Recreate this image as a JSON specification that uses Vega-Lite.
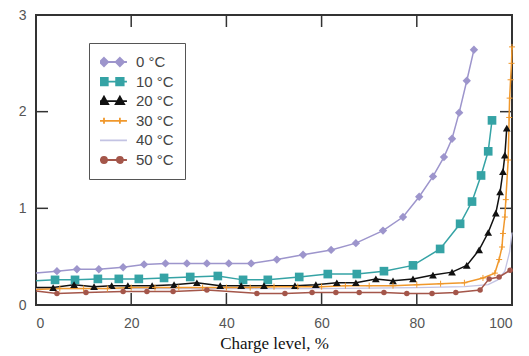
{
  "$schema": "https://vega.github.io/schema/vega-lite/v6.json",
  "width": 476,
  "height": 290,
  "autosize": "none",
  "padding": {"left": 36, "top": 15, "right": 17, "bottom": 51},
  "background": "white",
  "config": {
    "view": {"stroke": "#333", "strokeWidth": 2},
    "axis": {
      "grid": false,
      "domain": false,
      "ticks": false,
      "labelFont": "Liberation Sans",
      "labelFontSize": 14,
      "labelColor": "#555"
    }
  },
  "datasets": {
    "xticks": [{"v": 20}, {"v": 40}, {"v": 60}, {"v": 80}],
    "yticks": [{"v": 1}, {"v": 2}],
    "curves": [
      {"t": "0 °C", "x": 0, "y": 0.33}, {"t": "0 °C", "x": 4.4, "y": 0.35}, {"t": "0 °C", "x": 8.6, "y": 0.37},
      {"t": "0 °C", "x": 13.2, "y": 0.37}, {"t": "0 °C", "x": 18.3, "y": 0.39}, {"t": "0 °C", "x": 22.7, "y": 0.42},
      {"t": "0 °C", "x": 27.2, "y": 0.43}, {"t": "0 °C", "x": 31.7, "y": 0.43}, {"t": "0 °C", "x": 35.9, "y": 0.43},
      {"t": "0 °C", "x": 40.5, "y": 0.43}, {"t": "0 °C", "x": 45.2, "y": 0.43}, {"t": "0 °C", "x": 50.6, "y": 0.47},
      {"t": "0 °C", "x": 56.1, "y": 0.52}, {"t": "0 °C", "x": 62.0, "y": 0.57}, {"t": "0 °C", "x": 67.2, "y": 0.64},
      {"t": "0 °C", "x": 72.9, "y": 0.77}, {"t": "0 °C", "x": 77.1, "y": 0.91}, {"t": "0 °C", "x": 80.5, "y": 1.12},
      {"t": "0 °C", "x": 83.4, "y": 1.33}, {"t": "0 °C", "x": 85.7, "y": 1.53}, {"t": "0 °C", "x": 87.4, "y": 1.72},
      {"t": "0 °C", "x": 88.9, "y": 1.99}, {"t": "0 °C", "x": 90.5, "y": 2.32}, {"t": "0 °C", "x": 92.0, "y": 2.64},

      {"t": "10 °C", "x": 0, "y": 0.25}, {"t": "10 °C", "x": 4.0, "y": 0.26}, {"t": "10 °C", "x": 8.2, "y": 0.26},
      {"t": "10 °C", "x": 13.0, "y": 0.27}, {"t": "10 °C", "x": 17.4, "y": 0.27}, {"t": "10 °C", "x": 21.6, "y": 0.27},
      {"t": "10 °C", "x": 26.9, "y": 0.28}, {"t": "10 °C", "x": 32.4, "y": 0.29}, {"t": "10 °C", "x": 38.2, "y": 0.30},
      {"t": "10 °C", "x": 43.5, "y": 0.26}, {"t": "10 °C", "x": 48.7, "y": 0.26}, {"t": "10 °C", "x": 55.3, "y": 0.29},
      {"t": "10 °C", "x": 61.3, "y": 0.32}, {"t": "10 °C", "x": 67.4, "y": 0.32}, {"t": "10 °C", "x": 73.1, "y": 0.35},
      {"t": "10 °C", "x": 79.2, "y": 0.41}, {"t": "10 °C", "x": 84.9, "y": 0.58}, {"t": "10 °C", "x": 89.1, "y": 0.84},
      {"t": "10 °C", "x": 91.6, "y": 1.07}, {"t": "10 °C", "x": 93.5, "y": 1.34}, {"t": "10 °C", "x": 95.0, "y": 1.59},
      {"t": "10 °C", "x": 95.8, "y": 1.91},

      {"t": "20 °C", "x": 0, "y": 0.18}, {"t": "20 °C", "x": 3.6, "y": 0.18}, {"t": "20 °C", "x": 8.0, "y": 0.21},
      {"t": "20 °C", "x": 12.2, "y": 0.19}, {"t": "20 °C", "x": 15.9, "y": 0.20}, {"t": "20 °C", "x": 19.3, "y": 0.20},
      {"t": "20 °C", "x": 24.4, "y": 0.20}, {"t": "20 °C", "x": 29.0, "y": 0.21}, {"t": "20 °C", "x": 33.8, "y": 0.23},
      {"t": "20 °C", "x": 38.7, "y": 0.20}, {"t": "20 °C", "x": 43.1, "y": 0.20}, {"t": "20 °C", "x": 47.9, "y": 0.20},
      {"t": "20 °C", "x": 54.4, "y": 0.20}, {"t": "20 °C", "x": 58.8, "y": 0.21}, {"t": "20 °C", "x": 63.2, "y": 0.23},
      {"t": "20 °C", "x": 67.2, "y": 0.23}, {"t": "20 °C", "x": 71.4, "y": 0.27}, {"t": "20 °C", "x": 75.0, "y": 0.25},
      {"t": "20 °C", "x": 79.2, "y": 0.27}, {"t": "20 °C", "x": 83.4, "y": 0.31}, {"t": "20 °C", "x": 87.4, "y": 0.34},
      {"t": "20 °C", "x": 90.5, "y": 0.41}, {"t": "20 °C", "x": 93.1, "y": 0.57}, {"t": "20 °C", "x": 95.0, "y": 0.75},
      {"t": "20 °C", "x": 96.6, "y": 0.95}, {"t": "20 °C", "x": 97.5, "y": 1.17}, {"t": "20 °C", "x": 98.1, "y": 1.38},
      {"t": "20 °C", "x": 98.5, "y": 1.55}, {"t": "20 °C", "x": 98.9, "y": 1.83},

      {"t": "30 °C", "x": 0, "y": 0.16}, {"t": "30 °C", "x": 5, "y": 0.17}, {"t": "30 °C", "x": 10, "y": 0.17},
      {"t": "30 °C", "x": 15, "y": 0.17}, {"t": "30 °C", "x": 20, "y": 0.18}, {"t": "30 °C", "x": 25, "y": 0.18},
      {"t": "30 °C", "x": 30, "y": 0.18}, {"t": "30 °C", "x": 35, "y": 0.18}, {"t": "30 °C", "x": 40, "y": 0.18},
      {"t": "30 °C", "x": 45, "y": 0.18}, {"t": "30 °C", "x": 50, "y": 0.19}, {"t": "30 °C", "x": 55, "y": 0.19},
      {"t": "30 °C", "x": 60, "y": 0.19}, {"t": "30 °C", "x": 65, "y": 0.20}, {"t": "30 °C", "x": 70, "y": 0.20},
      {"t": "30 °C", "x": 75, "y": 0.20}, {"t": "30 °C", "x": 80, "y": 0.21}, {"t": "30 °C", "x": 85, "y": 0.22},
      {"t": "30 °C", "x": 90, "y": 0.23}, {"t": "30 °C", "x": 93.9, "y": 0.28}, {"t": "30 °C", "x": 96.4, "y": 0.33},
      {"t": "30 °C", "x": 97.3, "y": 0.47}, {"t": "30 °C", "x": 97.9, "y": 0.60}, {"t": "30 °C", "x": 98.1, "y": 0.74},
      {"t": "30 °C", "x": 98.5, "y": 0.91}, {"t": "30 °C", "x": 98.7, "y": 1.09}, {"t": "30 °C", "x": 99.2, "y": 1.50},
      {"t": "30 °C", "x": 99.4, "y": 1.94}, {"t": "30 °C", "x": 99.5, "y": 2.14}, {"t": "30 °C", "x": 99.7, "y": 2.33},
      {"t": "30 °C", "x": 99.9, "y": 2.50}, {"t": "30 °C", "x": 100, "y": 2.67},

      {"t": "40 °C", "x": 0, "y": 0.17}, {"t": "40 °C", "x": 20, "y": 0.17}, {"t": "40 °C", "x": 40, "y": 0.17},
      {"t": "40 °C", "x": 60, "y": 0.17}, {"t": "40 °C", "x": 80, "y": 0.18}, {"t": "40 °C", "x": 90, "y": 0.19},
      {"t": "40 °C", "x": 95, "y": 0.21}, {"t": "40 °C", "x": 97, "y": 0.26}, {"t": "40 °C", "x": 98.5, "y": 0.35},
      {"t": "40 °C", "x": 99.5, "y": 0.55}, {"t": "40 °C", "x": 100, "y": 0.75},

      {"t": "50 °C", "x": 0, "y": 0.145}, {"t": "50 °C", "x": 4.4, "y": 0.12}, {"t": "50 °C", "x": 10.5, "y": 0.13},
      {"t": "50 °C", "x": 18.3, "y": 0.14}, {"t": "50 °C", "x": 23.3, "y": 0.14}, {"t": "50 °C", "x": 28.8, "y": 0.14},
      {"t": "50 °C", "x": 35.9, "y": 0.155}, {"t": "50 °C", "x": 46.4, "y": 0.12}, {"t": "50 °C", "x": 52.3, "y": 0.12},
      {"t": "50 °C", "x": 58.0, "y": 0.13}, {"t": "50 °C", "x": 63.0, "y": 0.13}, {"t": "50 °C", "x": 67.9, "y": 0.13},
      {"t": "50 °C", "x": 73.1, "y": 0.13}, {"t": "50 °C", "x": 77.9, "y": 0.12}, {"t": "50 °C", "x": 83.2, "y": 0.12},
      {"t": "50 °C", "x": 88.2, "y": 0.13}, {"t": "50 °C", "x": 93.3, "y": 0.155}, {"t": "50 °C", "x": 95.2, "y": 0.27},
      {"t": "50 °C", "x": 97.3, "y": 0.29}, {"t": "50 °C", "x": 99.6, "y": 0.36}
    ]
  },
  "data": {"name": "curves"},
  "resolve": {"axis": {"x": "independent", "y": "independent"}},
  "layer": [
    {
      "data": {"name": "xticks"},
      "mark": {"type": "rule", "color": "#333", "strokeWidth": 1.5},
      "encoding": {
        "x": {"field": "v", "type": "quantitative", "scale": {"domain": [0, 100], "nice": false}, "axis": null},
        "y": {"datum": 0, "type": "quantitative", "scale": {"domain": [0, 3], "nice": false}, "axis": null},
        "y2": {"datum": 0.124}
      }
    },
    {
      "data": {"name": "xticks"},
      "mark": {"type": "rule", "color": "#333", "strokeWidth": 1.5},
      "encoding": {
        "x": {"field": "v", "type": "quantitative", "axis": null},
        "y": {"datum": 2.876, "type": "quantitative", "axis": null},
        "y2": {"datum": 3}
      }
    },
    {
      "data": {"name": "yticks"},
      "mark": {"type": "rule", "color": "#333", "strokeWidth": 1.5},
      "encoding": {
        "y": {"field": "v", "type": "quantitative", "axis": null},
        "x": {"datum": 0, "type": "quantitative", "axis": null},
        "x2": {"datum": 2.52}
      }
    },
    {
      "data": {"name": "yticks"},
      "mark": {"type": "rule", "color": "#333", "strokeWidth": 1.5},
      "encoding": {
        "y": {"field": "v", "type": "quantitative", "axis": null},
        "x": {"datum": 97.48, "type": "quantitative", "axis": null},
        "x2": {"datum": 100}
      }
    },
    {
      "transform": [{"filter": "datum.t === '40 °C'"}],
      "mark": {"type": "line", "strokeWidth": 1.3},
      "encoding": {
        "x": {"field": "x", "type": "quantitative", "axis": null},
        "y": {"field": "y", "type": "quantitative", "axis": null},
        "color": {"field": "t", "type": "nominal",
                  "scale": {"domain": ["0 °C", "10 °C", "20 °C", "30 °C", "40 °C", "50 °C"],
                            "range": ["#9d95cc", "#35a3a5", "#111111", "#f0982c", "#c3c3e3", "#a4564a"]}}
      }
    },
    {
      "transform": [{"filter": "datum.t !== '40 °C'"}],
      "mark": {"type": "line", "strokeWidth": 1.5},
      "encoding": {
        "x": {"field": "x", "type": "quantitative", "axis": null},
        "y": {"field": "y", "type": "quantitative", "axis": null},
        "color": {"field": "t", "type": "nominal"}
      }
    },
    {
      "transform": [{"filter": "datum.x > 0 && datum.t === '0 °C'"}],
      "mark": {"type": "point", "filled": true, "opacity": 1, "shape": "diamond", "size": 70},
      "encoding": {
        "x": {"field": "x", "type": "quantitative",
              "axis": {"orient": "bottom", "values": [0, 20, 40, 60, 80, 100], "labelPadding": 11,
                       "title": "Charge level, %", "titleFont": "Liberation Serif", "titleFontSize": 17,
                       "titleFontWeight": "normal", "titleColor": "#111", "titlePadding": 5}},
        "y": {"field": "y", "type": "quantitative",
              "axis": {"orient": "left", "values": [0, 1, 2, 3], "labelPadding": 10, "title": null}},
        "color": {"field": "t", "type": "nominal",
                  "legend": {
                    "orient": "none", "legendX": 53, "legendY": 28, "title": null,
                    "strokeColor": "#555", "fillColor": "white", "padding": 11,
                    "labelFont": "Liberation Sans", "labelFontSize": 15, "labelColor": "#444",
                    "labelOffset": 4, "clipHeight": 16, "rowPadding": 3.6, "symbolSize": 900,
                    "symbolOpacity": 1,
                    "encode": {
                      "symbols": {
                        "update": {
                          "shape": {"signal": "datum.value === '0 °C' ? 'M-1.27,0H0.73M-0.8,-0.28L-0.52,0L-0.8,0.28L-1.08,0ZM0.26,-0.28L0.54,0L0.26,0.28L-0.02,0Z' : datum.value === '10 °C' ? 'M-1.27,0H0.73M-1.05,-0.25H-0.55V0.25H-1.05ZM0.01,-0.25H0.51V0.25H0.01Z' : datum.value === '20 °C' ? 'M-1.27,0H0.73M-0.8,-0.3L-0.52,0.2H-1.08ZM0.26,-0.3L0.54,0.2H-0.02Z' : datum.value === '30 °C' ? 'M-1.27,0H0.73M-0.8,-0.2V0.2M0.26,-0.2V0.2' : datum.value === '40 °C' ? 'M-1.27,0H0.73' : 'M-1.27,0H0.73M-0.6,0A0.2,0.2 0 1 1 -1,0A0.2,0.2 0 1 1 -0.6,0ZM0.46,0A0.2,0.2 0 1 1 0.06,0A0.2,0.2 0 1 1 0.46,0Z'"},
                          "stroke": {"scale": "color", "field": "value"},
                          "size": {"value": 900},
                          "strokeWidth": {"value": 1.8}
                        }
                      }
                    }
                  }}
      }
    },
    {
      "transform": [{"filter": "datum.x > 0 && datum.t === '10 °C'"}],
      "mark": {"type": "point", "filled": true, "opacity": 1, "shape": "square", "size": 75},
      "encoding": {
        "x": {"field": "x", "type": "quantitative", "axis": null},
        "y": {"field": "y", "type": "quantitative", "axis": null},
        "color": {"field": "t", "type": "nominal"}
      }
    },
    {
      "transform": [{"filter": "datum.x > 0 && datum.t === '20 °C'"}],
      "mark": {"type": "point", "filled": true, "opacity": 1, "shape": "triangle-up", "size": 60},
      "encoding": {
        "x": {"field": "x", "type": "quantitative", "axis": null},
        "y": {"field": "y", "type": "quantitative", "axis": null},
        "color": {"field": "t", "type": "nominal"}
      }
    },
    {
      "transform": [{"filter": "datum.x > 0 && datum.t === '30 °C'"}],
      "mark": {"type": "point", "filled": true, "opacity": 1, "shape": "M-1,0H1M0,-1V1", "size": 36, "stroke": "#f0982c", "strokeWidth": 1},
      "encoding": {
        "x": {"field": "x", "type": "quantitative", "axis": null},
        "y": {"field": "y", "type": "quantitative", "axis": null},
        "color": {"field": "t", "type": "nominal"}
      }
    },
    {
      "transform": [{"filter": "datum.x > 0 && datum.t === '50 °C'"}],
      "mark": {"type": "point", "filled": true, "opacity": 1, "shape": "circle", "size": 30},
      "encoding": {
        "x": {"field": "x", "type": "quantitative", "axis": null},
        "y": {"field": "y", "type": "quantitative", "axis": null},
        "color": {"field": "t", "type": "nominal"}
      }
    }
  ]
}
